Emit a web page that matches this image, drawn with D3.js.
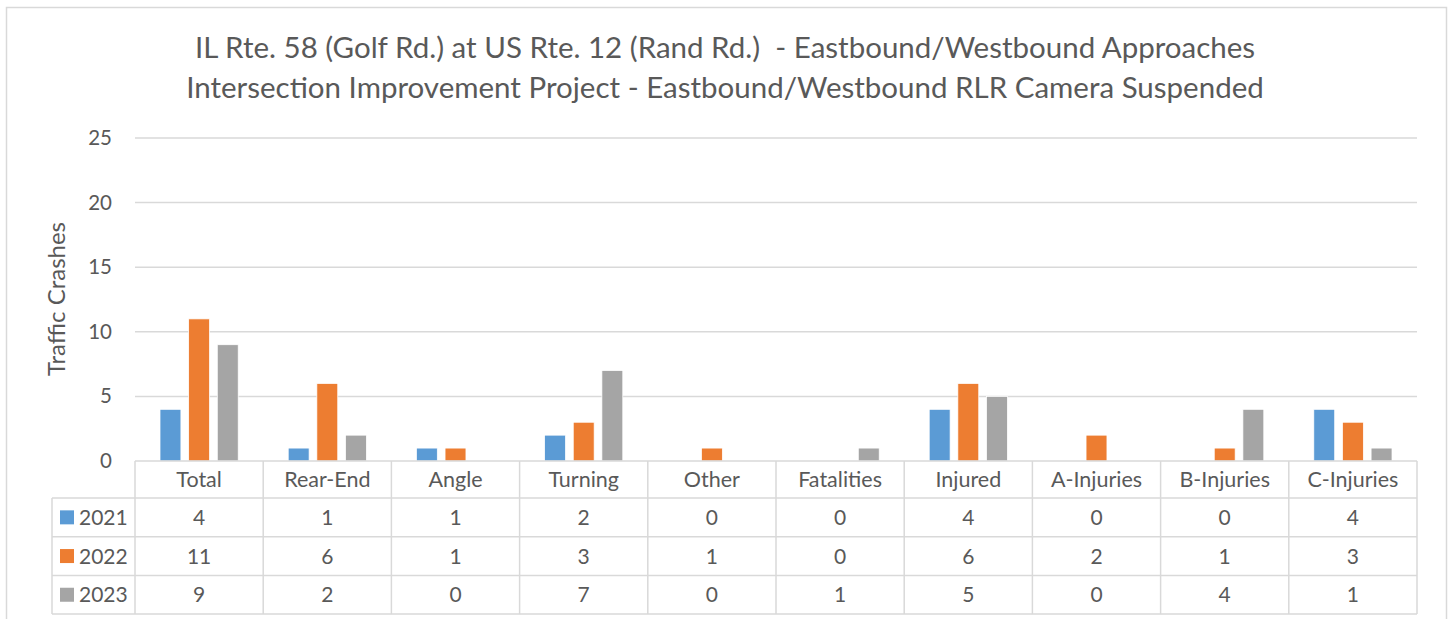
<!DOCTYPE html>
<meta charset="utf-8">
<script src="https://d3js.org/d3.v7.min.js"></script>
<style>
  body { margin: 0; background: #fff; }
  text { font-family: Lato, "Open Sans", sans-serif; fill: #595959; }
</style>
<div id="chart"></div>
<script>

// data
var categories = ["Total", "Rear-End", "Angle", "Turning", "Other", "Fatalities", "Injured", "A-Injuries", "B-Injuries", "C-Injuries"];
var years = ["2021", "2022", "2023"];
var v2021 = [4, 1, 1, 2, 0, 0, 4, 0, 0, 4];
var v2022 = [11, 6, 1, 3, 1, 0, 6, 2, 1, 3];
var v2023 = [9, 2, 0, 7, 0, 1, 5, 0, 4, 1];
var yTicks = [0, 5, 10, 15, 20, 25];
var titleLines = ["IL Rte. 58 (Golf Rd.) at US Rte. 12 (Rand Rd.)  - Eastbound/Westbound Approaches",
                  "Intersection Improvement Project - Eastbound/Westbound RLR Camera Suspended"];
var yLabel = "Traffic Crashes";

var series = [v2021, v2022, v2023];
var colors = ["#5B9BD5", "#ED7D31", "#A5A5A5"];
var grid = "#d9d9d9";

var W = 1449, H = 619;
var plot = {left: 135, right: 1417, top: 138, bottom: 461};
var rowH = [37, 38.7, 38.7, 38.7];

var svg = d3.select("#chart").append("svg")
    .attr("width", W)
    .attr("height", H);

// outer chart border
svg.append("rect")
    .attr("x", 6.5).attr("y", 7.5)
    .attr("width", 1440).attr("height", 640)
    .attr("fill", "none")
    .attr("stroke", grid)
    .attr("stroke-width", 1.5);

// title
svg.append("g").selectAll("text")
    .data(titleLines)
    .enter().append("text")
    .attr("x", 725)
    .attr("y", function(d, i) { return 58 + i * 40; })
    .attr("text-anchor", "middle")
    .style("font-size", "29.5px")
    .style("white-space", "pre")
    .text(function(d) { return d; });

// scales
var x = d3.scaleBand()
    .domain(categories)
    .range([plot.left, plot.right]);

var xInner = d3.scaleBand()
    .domain(years)
    .range([25, x.bandwidth() - 25])
    .paddingInner(0.27);

var y = d3.scaleLinear()
    .domain([0, 25])
    .range([plot.bottom, plot.top]);

// gridlines
svg.append("g").selectAll("line")
    .data(yTicks.slice(1))
    .enter().append("line")
    .attr("x1", plot.left).attr("x2", plot.right)
    .attr("y1", function(d) { return y(d); })
    .attr("y2", function(d) { return y(d); })
    .attr("stroke", grid)
    .attr("stroke-width", 1.5);

// y axis labels
var yAxis = svg.append("g")
    .attr("transform", "translate(" + plot.left + ",0)")
    .call(d3.axisLeft(y).tickValues(yTicks).tickSize(0).tickPadding(23));
yAxis.select(".domain").remove();
yAxis.selectAll("text")
    .style("font-size", "20.5px")
    .style("font-family", "Lato, sans-serif")
    .attr("fill", "#595959");

svg.append("text")
    .attr("transform", "translate(65,299) rotate(-90)")
    .attr("text-anchor", "middle")
    .style("font-size", "24px")
    .text(yLabel);

// bars
svg.append("g").selectAll("g")
    .data(series)
    .enter().append("g")
    .attr("fill", function(d, i) { return colors[i]; })
    .each(function(vals, si) {
        d3.select(this).selectAll("rect")
            .data(vals)
            .enter().append("rect")
            .attr("x", function(d, ci) { return x(categories[ci]) + xInner(years[si]); })
            .attr("width", xInner.bandwidth())
            .attr("y", function(d) { return y(d); })
            .attr("height", function(d) { return y(0) - y(d); })
            .attr("stroke", "#fff")
            .attr("stroke-width", 0.75);
    });

// data table
var tbl = svg.append("g");
var rowsY = [plot.bottom];
rowH.forEach(function(h, i) { rowsY.push(rowsY[i] + h); });
var legendLeft = 52;

// horizontal lines
tbl.selectAll("line.h")
    .data(rowsY)
    .enter().append("line")
    .attr("x1", function(d, i) { return i === 0 ? plot.left : legendLeft; })
    .attr("x2", plot.right)
    .attr("y1", function(d) { return d; })
    .attr("y2", function(d) { return d; })
    .attr("stroke", grid)
    .attr("stroke-width", 1.5);

// vertical lines
var vx = categories.map(function(c) { return x(c); }).concat([plot.right]);
tbl.selectAll("line.v")
    .data(vx)
    .enter().append("line")
    .attr("x1", function(d) { return d; })
    .attr("x2", function(d) { return d; })
    .attr("y1", rowsY[0])
    .attr("y2", rowsY[4])
    .attr("stroke", grid)
    .attr("stroke-width", 1.5);
tbl.append("line")
    .attr("x1", legendLeft).attr("x2", legendLeft)
    .attr("y1", rowsY[1]).attr("y2", rowsY[4])
    .attr("stroke", grid)
    .attr("stroke-width", 1.5);

// header text
tbl.selectAll("text.cat")
    .data(categories)
    .enter().append("text")
    .attr("x", function(d) { return x(d) + x.bandwidth() / 2; })
    .attr("y", (rowsY[0] + rowsY[1]) / 2)
    .attr("dy", "0.36em")
    .attr("text-anchor", "middle")
    .style("font-size", "21.5px")
    .text(function(d) { return d; });

// value rows
series.forEach(function(vals, si) {
    var cy = (rowsY[si + 1] + rowsY[si + 2]) / 2;
    tbl.append("rect")
        .attr("x", 60).attr("y", cy - 7)
        .attr("width", 14).attr("height", 14)
        .attr("fill", colors[si]);
    tbl.append("text")
        .attr("x", 79).attr("y", cy)
        .attr("dy", "0.36em")
        .style("font-size", "21px")
        .text(years[si]);
    tbl.selectAll(null)
        .data(vals)
        .enter().append("text")
        .attr("x", function(d, ci) { return x(categories[ci]) + x.bandwidth() / 2; })
        .attr("y", cy)
        .attr("dy", "0.36em")
        .attr("text-anchor", "middle")
        .style("font-size", "21px")
        .text(function(d) { return d; });
});

</script>
